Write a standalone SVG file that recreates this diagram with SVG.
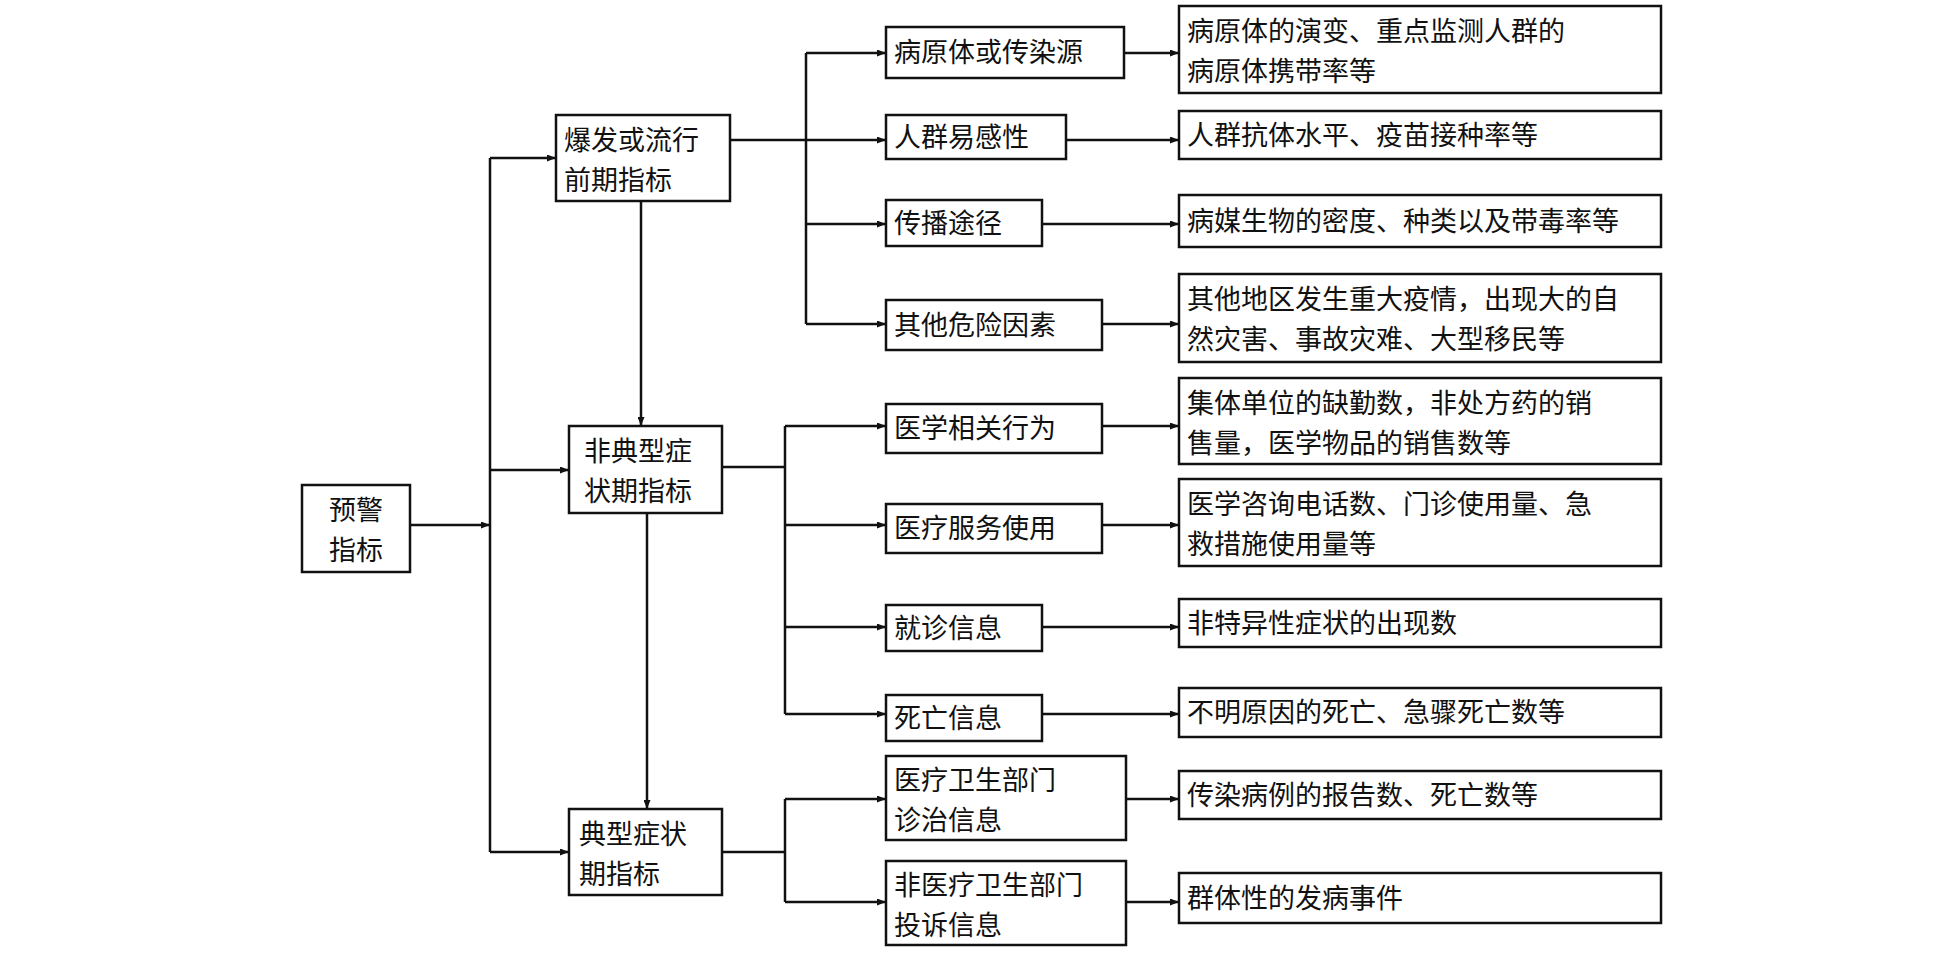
<svg xmlns="http://www.w3.org/2000/svg" width="1936" height="957" viewBox="0 0 1936 957">
<defs><marker id="a" viewBox="0 0 10 10" refX="10" refY="5" markerWidth="9" markerHeight="7" markerUnits="userSpaceOnUse" orient="auto" preserveAspectRatio="none"><path d="M0,0 L10,5 L0,10 z" fill="#111"/></marker></defs>
<style>rect{fill:#fff;stroke:#111;stroke-width:2.5}text{font-family:"Noto Sans CJK SC",sans-serif;font-size:27px;fill:#111}#c path{fill:none;stroke:#111;stroke-width:2.5}.m{marker-end:url(#a)}</style>
<rect x="0" y="0" width="1936" height="957" style="stroke:none"/>
<g id="c">
<path d="M410,525 H490" class="m"/>
<path d="M490,158 V852"/>
<path d="M490,158 H556" class="m"/><path d="M490,470 H569" class="m"/><path d="M490,852 H569" class="m"/>
<path d="M641,201 V426" class="m"/><path d="M647,513 V809" class="m"/>
<path d="M730,140 H806"/><path d="M806,53 V324"/>
<path d="M806,53 H886" class="m"/><path d="M806,140 H886" class="m"/><path d="M806,224 H886" class="m"/><path d="M806,324 H886" class="m"/>
<path d="M722,467 H785"/><path d="M785,426 V714"/>
<path d="M785,426 H886" class="m"/><path d="M785,525 H886" class="m"/><path d="M785,627 H886" class="m"/><path d="M785,714 H886" class="m"/>
<path d="M722,852 H785"/><path d="M785,799 V902"/>
<path d="M785,799 H886" class="m"/><path d="M785,902 H886" class="m"/>
<path d="M1124,53 H1179" class="m"/><path d="M1066,140 H1179" class="m"/><path d="M1042,224 H1179" class="m"/><path d="M1102,324 H1179" class="m"/>
<path d="M1102,426 H1179" class="m"/><path d="M1102,525 H1179" class="m"/><path d="M1042,627 H1179" class="m"/><path d="M1042,714 H1179" class="m"/>
<path d="M1126,799 H1179" class="m"/><path d="M1126,902 H1179" class="m"/>
</g>
<g id="n0"><rect x="302" y="485" width="108" height="87"/><text x="329" y="520">预警</text><text x="329" y="560">指标</text></g>
<g id="n1"><rect x="556" y="115" width="174" height="86"/><text x="564" y="150">爆发或流行</text><text x="564" y="190">前期指标</text></g>
<g id="n2"><rect x="569" y="426" width="153" height="87"/><text x="584" y="461">非典型症</text><text x="584" y="501">状期指标</text></g>
<g id="n3"><rect x="569" y="809" width="153" height="86"/><text x="579" y="844">典型症状</text><text x="579" y="884">期指标</text></g>
<g id="b1"><rect x="886" y="27" width="238" height="51"/><text x="894" y="62">病原体或传染源</text></g>
<g id="b2"><rect x="886" y="115" width="180" height="44"/><text x="894" y="147">人群易感性</text></g>
<g id="b3"><rect x="886" y="200" width="156" height="46"/><text x="894" y="233">传播途径</text></g>
<g id="b4"><rect x="886" y="300" width="216" height="50"/><text x="894" y="335">其他危险因素</text></g>
<g id="b5"><rect x="886" y="404" width="216" height="49"/><text x="894" y="438">医学相关行为</text></g>
<g id="b6"><rect x="886" y="504" width="216" height="49"/><text x="894" y="538">医疗服务使用</text></g>
<g id="b7"><rect x="886" y="605" width="156" height="46"/><text x="894" y="638">就诊信息</text></g>
<g id="b8"><rect x="886" y="695" width="156" height="46"/><text x="894" y="728">死亡信息</text></g>
<g id="b9"><rect x="886" y="756" width="240" height="84"/><text x="894" y="790">医疗卫生部门</text><text x="894" y="830">诊治信息</text></g>
<g id="b10"><rect x="886" y="861" width="240" height="84"/><text x="894" y="895">非医疗卫生部门</text><text x="894" y="935">投诉信息</text></g>
<g id="d1"><rect x="1179" y="6" width="482" height="87"/><text x="1187" y="41">病原体的演变、重点监测人群的</text><text x="1187" y="81">病原体携带率等</text></g>
<g id="d2"><rect x="1179" y="111" width="482" height="48"/><text x="1187" y="145">人群抗体水平、疫苗接种率等</text></g>
<g id="d3"><rect x="1179" y="195" width="482" height="52"/><text x="1187" y="231">病媒生物的密度、种类以及带毒率等</text></g>
<g id="d4"><rect x="1179" y="274" width="482" height="88"/><text x="1187" y="309">其他地区发生重大疫情，出现大的自</text><text x="1187" y="349">然灾害、事故灾难、大型移民等</text></g>
<g id="d5"><rect x="1179" y="378" width="482" height="86"/><text x="1187" y="413">集体单位的缺勤数，非处方药的销</text><text x="1187" y="453">售量，医学物品的销售数等</text></g>
<g id="d6"><rect x="1179" y="479" width="482" height="87"/><text x="1187" y="514">医学咨询电话数、门诊使用量、急</text><text x="1187" y="554">救措施使用量等</text></g>
<g id="d7"><rect x="1179" y="599" width="482" height="48"/><text x="1187" y="633">非特异性症状的出现数</text></g>
<g id="d8"><rect x="1179" y="688" width="482" height="49"/><text x="1187" y="722">不明原因的死亡、急骤死亡数等</text></g>
<g id="d9"><rect x="1179" y="771" width="482" height="48"/><text x="1187" y="805">传染病例的报告数、死亡数等</text></g>
<g id="d10"><rect x="1179" y="873" width="482" height="50"/><text x="1187" y="908">群体性的发病事件</text></g>
</svg>
